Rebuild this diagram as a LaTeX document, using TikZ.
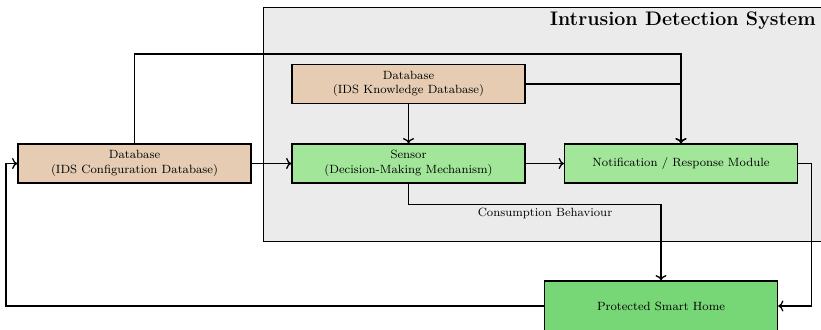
\documentclass[tikz,border=0pt]{standalone}
\usetikzlibrary{arrows.meta}
\definecolor{dbtan}{RGB}{229,204,178}
\definecolor{modgreen}{RGB}{162,230,154}
\definecolor{homegreen}{RGB}{119,214,117}
\definecolor{idsgray}{RGB}{235,235,235}
\newcommand{\boxfont}{\fontsize{7.6}{9.2}\selectfont}
\tikzset{
  unitbox/.style={draw, thick, inner sep=0pt, align=center, font=\boxfont,
    minimum width=233*0.6369pt, minimum height=39*0.6369pt},
  dbbox/.style={unitbox, fill=dbtan},
  modbox/.style={unitbox, fill=modgreen},
  homebox/.style={unitbox, fill=homegreen, minimum height=50*0.6369pt},
  conn/.style={thick, ->}
}
\begin{document}
\begin{tikzpicture}[x=0.6369pt, y=-0.6369pt]
\useasboundingbox (0,0) rectangle (821,329);

% enclosing IDS region
\node[draw, thick, fill=idsgray, anchor=north west, inner sep=0pt,
      minimum width=600*0.6369pt, minimum height=234*0.6369pt] (ids) at (263,7) {};
\node[font=\fontsize{12.5}{15}\selectfont\bfseries, anchor=base east, inner sep=0pt]
      (title) at (816,25) {Intrusion Detection System};

% blocks
\node[dbbox]  (kdb)    at (408.5,84)   {Database\\(IDS Knowledge Database)};
\node[modbox] (sensor) at (408.5,163.5) {Sensor\\(Decision-Making Mechanism)};
\node[modbox] (note)   at (681,163.5)   {Notification / Response Module};
\node[dbbox]  (cfg)    at (134.5,163.5) {Database\\(IDS Configuration Database)};
\node[homebox] (home)  at (661,306)     {Protected Smart Home};

% routing helpers
\coordinate (bus) at (0,54);
\coordinate (loopx) at (6,0);

% connectors
\draw[conn] (cfg.north) -- (cfg.north |- bus) -| (note.north);
\draw[conn] (kdb.east) -| (note.north);
\draw[conn] (kdb.south) -- (sensor.north);
\draw[conn] (cfg.east) -- (sensor.west);
\draw[conn] (sensor.east) -- (note.west);
\draw[conn] (sensor.south) -- ++(0,21) -| (home.north);
\node[font=\boxfont] (cb) at (545,213.5) {Consumption Behaviour};
\draw[conn] (note.east) -- ++(13,0) |- (home.east);
\draw[conn] (home.west) -- (home.west -| loopx) |- (cfg.west);
\end{tikzpicture}
\end{document}
